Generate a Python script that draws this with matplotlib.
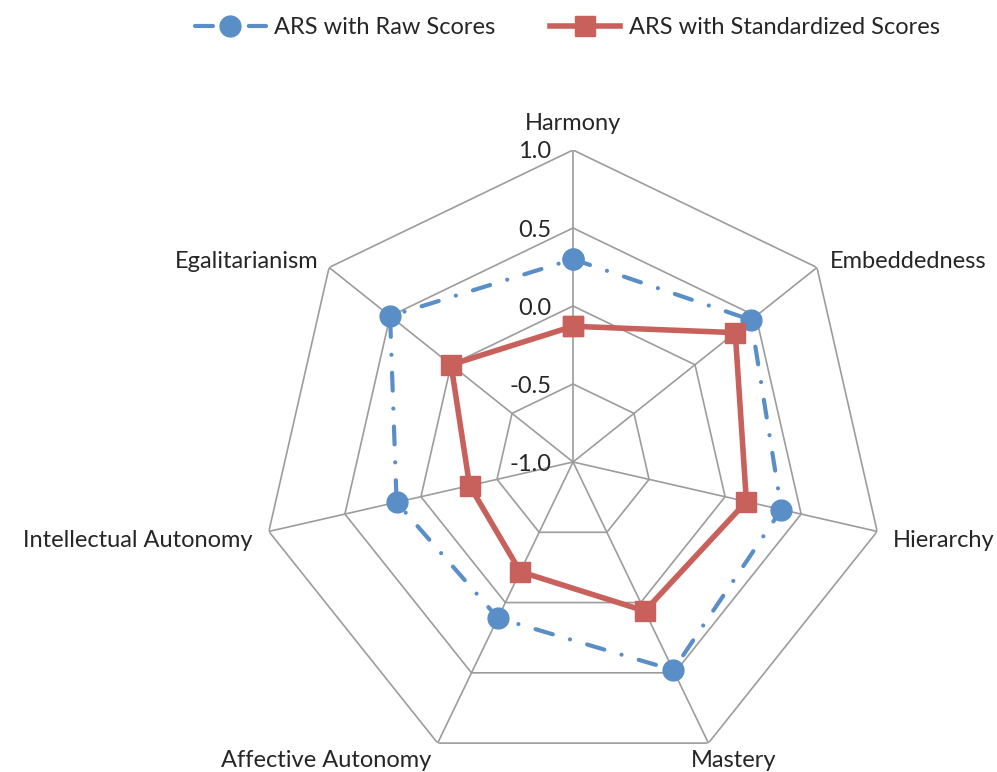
import numpy as np
import matplotlib.pyplot as plt

plt.rcParams['font.family'] = ['Lato', 'DejaVu Sans']

categories = ['Harmony', 'Embeddedness', 'Hierarchy', 'Mastery',
              'Affective Autonomy', 'Intellectual Autonomy', 'Egalitarianism']
raw_scores = [0.30, 0.46, 0.37, 0.48, 0.11, 0.16, 0.50]
std_scores = [-0.13, 0.33, 0.14, 0.06, -0.22, -0.32, 0.00]
ring_values = [-1.0, -0.5, 0.0, 0.5, 1.0]
ring_labels = ['-1.0', '-0.5', '0.0', '0.5', '1.0']

# label offsets in pixels from the outer vertex (hand tuned)
label_offsets = [(0, 26, 'center'), (13, 6, 'left'), (16, -9, 'left'),
                 (-18, -17, 'left'), (-6, -17, 'right'), (-16, -9, 'right'),
                 (-11, 6, 'right')]

n = len(categories)
theta = np.arange(n) * 2 * np.pi / n
theta_closed = np.append(theta, theta[0])

fig = plt.figure(figsize=(9.97, 7.72), dpi=100)
ax = fig.add_axes([0.2618, -0.0026, 0.6259, 0.8083], projection='polar')
ax.set_theta_zero_location('N')
ax.set_theta_direction(-1)
ax.set_ylim(-1, 1)
ax.grid(False)
ax.spines['polar'].set_visible(False)
ax.set_xticks([])
ax.set_yticks([])

grid_color = '#9c9c9c'
for rv in ring_values[1:]:
    ax.plot(theta_closed, [rv] * (n + 1), color=grid_color, lw=1.2, zorder=1)
for t in theta:
    ax.plot([t, t], [-1, 1], color=grid_color, lw=1.2, zorder=1)

text_color = '#262626'
for rv, rl in zip(ring_values, ring_labels):
    ax.annotate(rl, (0, rv), xytext=(-22, -2), textcoords='offset pixels',
                ha='right', va='center', fontsize=17, color=text_color)

for t, cat, (dx, dy, ha) in zip(theta, categories, label_offsets):
    ax.annotate(cat, (t, 1), xytext=(dx, dy), textcoords='offset pixels',
                ha=ha, va='center', fontsize=17, color=text_color,
                annotation_clip=False)

blue = '#5a8ec6'
red = '#c8605b'
ax.plot(theta_closed, raw_scores + raw_scores[:1], color=blue, lw=3,
        dashes=(4.3, 4.3, 0.01, 4.3), dash_capstyle='round', marker='o',
        markersize=15, label='ARS with Raw Scores', zorder=3, clip_on=False)
ax.plot(theta_closed, std_scores + std_scores[:1], color=red, lw=4,
        marker='s', markersize=14.5, label='ARS with Standardized Scores',
        zorder=4, clip_on=False)

fig.legend(loc='upper center', bbox_to_anchor=(0.569, 1.005), ncol=2,
           frameon=False, fontsize=17, handlelength=3.0, columnspacing=2.3,
           handletextpad=0.35, labelcolor=text_color)

fig.savefig('out.png', dpi=100)
